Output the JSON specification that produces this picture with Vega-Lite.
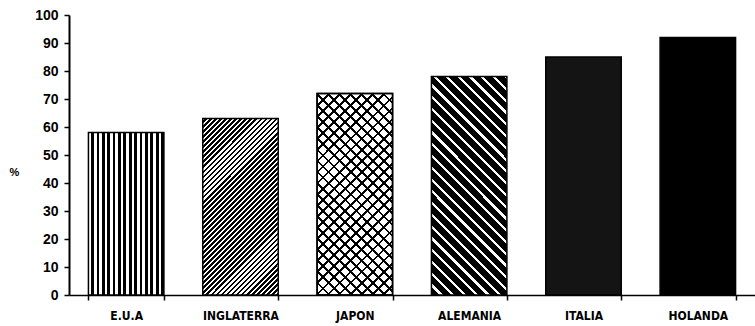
{
  "$schema": "https://vega.github.io/schema/vega-lite/v6.json",
  "autosize": {"type": "none"},
  "padding": {"left": 69, "top": 15, "right": 0, "bottom": 31},
  "width": 686,
  "height": 280,
  "background": "#ffffff",
  "data": {
    "values": [
      {"pais": "E.U.A", "pct": 58},
      {"pais": "INGLATERRA", "pct": 63},
      {"pais": "JAPON", "pct": 72},
      {"pais": "ALEMANIA", "pct": 78},
      {"pais": "ITALIA", "pct": 85},
      {"pais": "HOLANDA", "pct": 92}
    ]
  },
  "encoding": {
    "x": {
      "field": "pais",
      "type": "nominal",
      "sort": null,
      "scale": {
        "domain": ["E.U.A", "INGLATERRA", "JAPON", "ALEMANIA", "ITALIA", "HOLANDA"],
        "paddingInner": 0.34,
        "paddingOuter": 0.17
      },
      "axis": {
        "title": null,
        "labelAngle": 0,
        "tickBand": "extent",
        "tickSize": 5,
        "tickWidth": 1.5,
        "domainWidth": 1.5,
        "labelPadding": 10,
        "labelFont": "Liberation Sans Narrow, DejaVu Sans Condensed, Liberation Sans, sans-serif",
        "labelFontSize": 12,
        "labelFontWeight": "bold"
      }
    },
    "y": {
      "field": "pct",
      "type": "quantitative",
      "scale": {"domain": [0, 100], "nice": false},
      "axis": {
        "values": [0, 10, 20, 30, 40, 50, 60, 70, 80, 90, 100],
        "tickSize": 5,
        "tickWidth": 1.5,
        "domainWidth": 2,
        "labelPadding": 6,
        "labelFont": "Liberation Sans, sans-serif",
        "labelFontSize": 14,
        "labelFontWeight": "bold",
        "title": "%",
        "titleAngle": 0,
        "titleX": -55,
        "titleY": 162,
        "titleFont": "Liberation Sans, sans-serif",
        "titleFontSize": 11,
        "titleFontWeight": "bold"
      }
    }
  },
  "layer": [
    {
      "transform": [{"filter": "datum.pais === 'E.U.A'"}],
      "mark": {
        "type": "bar", "stroke": "#000", "strokeWidth": 1.5,
        "fill": {"gradient": "linear", "x1": 0, "y1": 0, "x2": 1, "y2": 0, "stops": [
          {"offset": 0, "color": "#fff"}, {"offset": 0.0357, "color": "#fff"}, {"offset": 0.0357, "color": "#000"}, {"offset": 0.0714, "color": "#000"},
          {"offset": 0.0714, "color": "#fff"}, {"offset": 0.1071, "color": "#fff"}, {"offset": 0.1071, "color": "#000"}, {"offset": 0.1429, "color": "#000"},
          {"offset": 0.1429, "color": "#fff"}, {"offset": 0.1786, "color": "#fff"}, {"offset": 0.1786, "color": "#000"}, {"offset": 0.2143, "color": "#000"},
          {"offset": 0.2143, "color": "#fff"}, {"offset": 0.25, "color": "#fff"}, {"offset": 0.25, "color": "#000"}, {"offset": 0.2857, "color": "#000"},
          {"offset": 0.2857, "color": "#fff"}, {"offset": 0.3214, "color": "#fff"}, {"offset": 0.3214, "color": "#000"}, {"offset": 0.3571, "color": "#000"},
          {"offset": 0.3571, "color": "#fff"}, {"offset": 0.3929, "color": "#fff"}, {"offset": 0.3929, "color": "#000"}, {"offset": 0.4286, "color": "#000"},
          {"offset": 0.4286, "color": "#fff"}, {"offset": 0.4643, "color": "#fff"}, {"offset": 0.4643, "color": "#000"}, {"offset": 0.5, "color": "#000"},
          {"offset": 0.5, "color": "#fff"}, {"offset": 0.5357, "color": "#fff"}, {"offset": 0.5357, "color": "#000"}, {"offset": 0.5714, "color": "#000"},
          {"offset": 0.5714, "color": "#fff"}, {"offset": 0.6071, "color": "#fff"}, {"offset": 0.6071, "color": "#000"}, {"offset": 0.6429, "color": "#000"},
          {"offset": 0.6429, "color": "#fff"}, {"offset": 0.6786, "color": "#fff"}, {"offset": 0.6786, "color": "#000"}, {"offset": 0.7143, "color": "#000"},
          {"offset": 0.7143, "color": "#fff"}, {"offset": 0.75, "color": "#fff"}, {"offset": 0.75, "color": "#000"}, {"offset": 0.7857, "color": "#000"},
          {"offset": 0.7857, "color": "#fff"}, {"offset": 0.8214, "color": "#fff"}, {"offset": 0.8214, "color": "#000"}, {"offset": 0.8571, "color": "#000"},
          {"offset": 0.8571, "color": "#fff"}, {"offset": 0.8929, "color": "#fff"}, {"offset": 0.8929, "color": "#000"}, {"offset": 0.9286, "color": "#000"},
          {"offset": 0.9286, "color": "#fff"}, {"offset": 0.9643, "color": "#fff"}, {"offset": 0.9643, "color": "#000"}, {"offset": 1, "color": "#000"}
        ]}
      }
    },
    {
      "transform": [{"filter": "datum.pais === 'INGLATERRA'"}],
      "mark": {
        "type": "bar", "stroke": "#000", "strokeWidth": 1.5,
        "fill": {"gradient": "linear", "x1": 0, "y1": 0, "x2": 0.5166, "y2": 1.2069, "stops": [
          {"offset": 0, "color": "#fff"}, {"offset": 0.009, "color": "#fff"}, {"offset": 0.009, "color": "#000"}, {"offset": 0.02, "color": "#000"},
          {"offset": 0.02, "color": "#fff"}, {"offset": 0.029, "color": "#fff"}, {"offset": 0.029, "color": "#000"}, {"offset": 0.04, "color": "#000"},
          {"offset": 0.04, "color": "#fff"}, {"offset": 0.049, "color": "#fff"}, {"offset": 0.049, "color": "#000"}, {"offset": 0.06, "color": "#000"},
          {"offset": 0.06, "color": "#fff"}, {"offset": 0.069, "color": "#fff"}, {"offset": 0.069, "color": "#000"}, {"offset": 0.08, "color": "#000"},
          {"offset": 0.08, "color": "#fff"}, {"offset": 0.089, "color": "#fff"}, {"offset": 0.089, "color": "#000"}, {"offset": 0.10, "color": "#000"},
          {"offset": 0.10, "color": "#fff"}, {"offset": 0.109, "color": "#fff"}, {"offset": 0.109, "color": "#000"}, {"offset": 0.12, "color": "#000"},
          {"offset": 0.12, "color": "#fff"}, {"offset": 0.129, "color": "#fff"}, {"offset": 0.129, "color": "#000"}, {"offset": 0.14, "color": "#000"},
          {"offset": 0.14, "color": "#fff"}, {"offset": 0.149, "color": "#fff"}, {"offset": 0.149, "color": "#000"}, {"offset": 0.16, "color": "#000"},
          {"offset": 0.16, "color": "#fff"}, {"offset": 0.169, "color": "#fff"}, {"offset": 0.169, "color": "#000"}, {"offset": 0.18, "color": "#000"},
          {"offset": 0.18, "color": "#fff"}, {"offset": 0.189, "color": "#fff"}, {"offset": 0.189, "color": "#000"}, {"offset": 0.20, "color": "#000"},
          {"offset": 0.20, "color": "#fff"}, {"offset": 0.209, "color": "#fff"}, {"offset": 0.209, "color": "#000"}, {"offset": 0.22, "color": "#000"},
          {"offset": 0.22, "color": "#fff"}, {"offset": 0.229, "color": "#fff"}, {"offset": 0.229, "color": "#000"}, {"offset": 0.24, "color": "#000"},
          {"offset": 0.24, "color": "#fff"}, {"offset": 0.249, "color": "#fff"}, {"offset": 0.249, "color": "#000"}, {"offset": 0.26, "color": "#000"},
          {"offset": 0.26, "color": "#fff"}, {"offset": 0.269, "color": "#fff"}, {"offset": 0.269, "color": "#000"}, {"offset": 0.28, "color": "#000"},
          {"offset": 0.28, "color": "#fff"}, {"offset": 0.289, "color": "#fff"}, {"offset": 0.289, "color": "#000"}, {"offset": 0.30, "color": "#000"},
          {"offset": 0.30, "color": "#fff"}, {"offset": 0.309, "color": "#fff"}, {"offset": 0.309, "color": "#000"}, {"offset": 0.32, "color": "#000"},
          {"offset": 0.32, "color": "#fff"}, {"offset": 0.329, "color": "#fff"}, {"offset": 0.329, "color": "#000"}, {"offset": 0.34, "color": "#000"},
          {"offset": 0.34, "color": "#fff"}, {"offset": 0.349, "color": "#fff"}, {"offset": 0.349, "color": "#000"}, {"offset": 0.36, "color": "#000"},
          {"offset": 0.36, "color": "#fff"}, {"offset": 0.369, "color": "#fff"}, {"offset": 0.369, "color": "#000"}, {"offset": 0.38, "color": "#000"},
          {"offset": 0.38, "color": "#fff"}, {"offset": 0.389, "color": "#fff"}, {"offset": 0.389, "color": "#000"}, {"offset": 0.40, "color": "#000"},
          {"offset": 0.40, "color": "#fff"}, {"offset": 0.409, "color": "#fff"}, {"offset": 0.409, "color": "#000"}, {"offset": 0.42, "color": "#000"},
          {"offset": 0.42, "color": "#fff"}, {"offset": 0.429, "color": "#fff"}, {"offset": 0.429, "color": "#000"}, {"offset": 0.44, "color": "#000"},
          {"offset": 0.44, "color": "#fff"}, {"offset": 0.449, "color": "#fff"}, {"offset": 0.449, "color": "#000"}, {"offset": 0.46, "color": "#000"},
          {"offset": 0.46, "color": "#fff"}, {"offset": 0.469, "color": "#fff"}, {"offset": 0.469, "color": "#000"}, {"offset": 0.48, "color": "#000"},
          {"offset": 0.48, "color": "#fff"}, {"offset": 0.489, "color": "#fff"}, {"offset": 0.489, "color": "#000"}, {"offset": 0.50, "color": "#000"},
          {"offset": 0.50, "color": "#fff"}, {"offset": 0.509, "color": "#fff"}, {"offset": 0.509, "color": "#000"}, {"offset": 0.52, "color": "#000"},
          {"offset": 0.52, "color": "#fff"}, {"offset": 0.529, "color": "#fff"}, {"offset": 0.529, "color": "#000"}, {"offset": 0.54, "color": "#000"},
          {"offset": 0.54, "color": "#fff"}, {"offset": 0.549, "color": "#fff"}, {"offset": 0.549, "color": "#000"}, {"offset": 0.56, "color": "#000"},
          {"offset": 0.56, "color": "#fff"}, {"offset": 0.569, "color": "#fff"}, {"offset": 0.569, "color": "#000"}, {"offset": 0.58, "color": "#000"},
          {"offset": 0.58, "color": "#fff"}, {"offset": 0.589, "color": "#fff"}, {"offset": 0.589, "color": "#000"}, {"offset": 0.60, "color": "#000"},
          {"offset": 0.60, "color": "#fff"}, {"offset": 0.609, "color": "#fff"}, {"offset": 0.609, "color": "#000"}, {"offset": 0.62, "color": "#000"},
          {"offset": 0.62, "color": "#fff"}, {"offset": 0.629, "color": "#fff"}, {"offset": 0.629, "color": "#000"}, {"offset": 0.64, "color": "#000"},
          {"offset": 0.64, "color": "#fff"}, {"offset": 0.649, "color": "#fff"}, {"offset": 0.649, "color": "#000"}, {"offset": 0.66, "color": "#000"},
          {"offset": 0.66, "color": "#fff"}, {"offset": 0.669, "color": "#fff"}, {"offset": 0.669, "color": "#000"}, {"offset": 0.68, "color": "#000"},
          {"offset": 0.68, "color": "#fff"}, {"offset": 0.689, "color": "#fff"}, {"offset": 0.689, "color": "#000"}, {"offset": 0.70, "color": "#000"},
          {"offset": 0.70, "color": "#fff"}, {"offset": 0.709, "color": "#fff"}, {"offset": 0.709, "color": "#000"}, {"offset": 0.72, "color": "#000"},
          {"offset": 0.72, "color": "#fff"}, {"offset": 0.729, "color": "#fff"}, {"offset": 0.729, "color": "#000"}, {"offset": 0.74, "color": "#000"},
          {"offset": 0.74, "color": "#fff"}, {"offset": 0.749, "color": "#fff"}, {"offset": 0.749, "color": "#000"}, {"offset": 0.76, "color": "#000"},
          {"offset": 0.76, "color": "#fff"}, {"offset": 0.769, "color": "#fff"}, {"offset": 0.769, "color": "#000"}, {"offset": 0.78, "color": "#000"},
          {"offset": 0.78, "color": "#fff"}, {"offset": 0.789, "color": "#fff"}, {"offset": 0.789, "color": "#000"}, {"offset": 0.80, "color": "#000"},
          {"offset": 0.80, "color": "#fff"}, {"offset": 0.809, "color": "#fff"}, {"offset": 0.809, "color": "#000"}, {"offset": 0.82, "color": "#000"},
          {"offset": 0.82, "color": "#fff"}, {"offset": 0.829, "color": "#fff"}, {"offset": 0.829, "color": "#000"}, {"offset": 0.84, "color": "#000"},
          {"offset": 0.84, "color": "#fff"}, {"offset": 0.849, "color": "#fff"}, {"offset": 0.849, "color": "#000"}, {"offset": 0.86, "color": "#000"},
          {"offset": 0.86, "color": "#fff"}, {"offset": 0.869, "color": "#fff"}, {"offset": 0.869, "color": "#000"}, {"offset": 0.88, "color": "#000"},
          {"offset": 0.88, "color": "#fff"}, {"offset": 0.889, "color": "#fff"}, {"offset": 0.889, "color": "#000"}, {"offset": 0.90, "color": "#000"},
          {"offset": 0.90, "color": "#fff"}, {"offset": 0.909, "color": "#fff"}, {"offset": 0.909, "color": "#000"}, {"offset": 0.92, "color": "#000"},
          {"offset": 0.92, "color": "#fff"}, {"offset": 0.929, "color": "#fff"}, {"offset": 0.929, "color": "#000"}, {"offset": 0.94, "color": "#000"},
          {"offset": 0.94, "color": "#fff"}, {"offset": 0.949, "color": "#fff"}, {"offset": 0.949, "color": "#000"}, {"offset": 0.96, "color": "#000"},
          {"offset": 0.96, "color": "#fff"}, {"offset": 0.969, "color": "#fff"}, {"offset": 0.969, "color": "#000"}, {"offset": 0.98, "color": "#000"},
          {"offset": 0.98, "color": "#fff"}, {"offset": 0.989, "color": "#fff"}, {"offset": 0.989, "color": "#000"}, {"offset": 1, "color": "#000"}
        ]}
      }
    },
    {
      "transform": [{"filter": "datum.pais === 'JAPON'"}],
      "mark": {
        "type": "bar", "stroke": "#000", "strokeWidth": 1.5,
        "fill": {"gradient": "linear", "x1": 0, "y1": 0, "x2": 0.4514, "y2": 1.2054, "stops": [
          {"offset": 0, "color": "#000"}, {"offset": 0.01, "color": "#000"}, {"offset": 0.01, "color": "#fff"}, {"offset": 0.04, "color": "#fff"},
          {"offset": 0.04, "color": "#000"}, {"offset": 0.05, "color": "#000"}, {"offset": 0.05, "color": "#fff"}, {"offset": 0.08, "color": "#fff"},
          {"offset": 0.08, "color": "#000"}, {"offset": 0.09, "color": "#000"}, {"offset": 0.09, "color": "#fff"}, {"offset": 0.12, "color": "#fff"},
          {"offset": 0.12, "color": "#000"}, {"offset": 0.13, "color": "#000"}, {"offset": 0.13, "color": "#fff"}, {"offset": 0.16, "color": "#fff"},
          {"offset": 0.16, "color": "#000"}, {"offset": 0.17, "color": "#000"}, {"offset": 0.17, "color": "#fff"}, {"offset": 0.20, "color": "#fff"},
          {"offset": 0.20, "color": "#000"}, {"offset": 0.21, "color": "#000"}, {"offset": 0.21, "color": "#fff"}, {"offset": 0.24, "color": "#fff"},
          {"offset": 0.24, "color": "#000"}, {"offset": 0.25, "color": "#000"}, {"offset": 0.25, "color": "#fff"}, {"offset": 0.28, "color": "#fff"},
          {"offset": 0.28, "color": "#000"}, {"offset": 0.29, "color": "#000"}, {"offset": 0.29, "color": "#fff"}, {"offset": 0.32, "color": "#fff"},
          {"offset": 0.32, "color": "#000"}, {"offset": 0.33, "color": "#000"}, {"offset": 0.33, "color": "#fff"}, {"offset": 0.36, "color": "#fff"},
          {"offset": 0.36, "color": "#000"}, {"offset": 0.37, "color": "#000"}, {"offset": 0.37, "color": "#fff"}, {"offset": 0.40, "color": "#fff"},
          {"offset": 0.40, "color": "#000"}, {"offset": 0.41, "color": "#000"}, {"offset": 0.41, "color": "#fff"}, {"offset": 0.44, "color": "#fff"},
          {"offset": 0.44, "color": "#000"}, {"offset": 0.45, "color": "#000"}, {"offset": 0.45, "color": "#fff"}, {"offset": 0.48, "color": "#fff"},
          {"offset": 0.48, "color": "#000"}, {"offset": 0.49, "color": "#000"}, {"offset": 0.49, "color": "#fff"}, {"offset": 0.52, "color": "#fff"},
          {"offset": 0.52, "color": "#000"}, {"offset": 0.53, "color": "#000"}, {"offset": 0.53, "color": "#fff"}, {"offset": 0.56, "color": "#fff"},
          {"offset": 0.56, "color": "#000"}, {"offset": 0.57, "color": "#000"}, {"offset": 0.57, "color": "#fff"}, {"offset": 0.60, "color": "#fff"},
          {"offset": 0.60, "color": "#000"}, {"offset": 0.61, "color": "#000"}, {"offset": 0.61, "color": "#fff"}, {"offset": 0.64, "color": "#fff"},
          {"offset": 0.64, "color": "#000"}, {"offset": 0.65, "color": "#000"}, {"offset": 0.65, "color": "#fff"}, {"offset": 0.68, "color": "#fff"},
          {"offset": 0.68, "color": "#000"}, {"offset": 0.69, "color": "#000"}, {"offset": 0.69, "color": "#fff"}, {"offset": 0.72, "color": "#fff"},
          {"offset": 0.72, "color": "#000"}, {"offset": 0.73, "color": "#000"}, {"offset": 0.73, "color": "#fff"}, {"offset": 0.76, "color": "#fff"},
          {"offset": 0.76, "color": "#000"}, {"offset": 0.77, "color": "#000"}, {"offset": 0.77, "color": "#fff"}, {"offset": 0.80, "color": "#fff"},
          {"offset": 0.80, "color": "#000"}, {"offset": 0.81, "color": "#000"}, {"offset": 0.81, "color": "#fff"}, {"offset": 0.84, "color": "#fff"},
          {"offset": 0.84, "color": "#000"}, {"offset": 0.85, "color": "#000"}, {"offset": 0.85, "color": "#fff"}, {"offset": 0.88, "color": "#fff"},
          {"offset": 0.88, "color": "#000"}, {"offset": 0.89, "color": "#000"}, {"offset": 0.89, "color": "#fff"}, {"offset": 0.92, "color": "#fff"},
          {"offset": 0.92, "color": "#000"}, {"offset": 0.93, "color": "#000"}, {"offset": 0.93, "color": "#fff"}, {"offset": 0.96, "color": "#fff"},
          {"offset": 0.96, "color": "#000"}, {"offset": 0.97, "color": "#000"}, {"offset": 0.97, "color": "#fff"}, {"offset": 1, "color": "#fff"}
        ]}
      }
    },
    {
      "transform": [{"filter": "datum.pais === 'JAPON'"}],
      "mark": {
        "type": "bar", "stroke": "#000", "strokeWidth": 1.5,
        "fill": {"gradient": "linear", "x1": 0, "y1": 1, "x2": 0.4514, "y2": -0.2054, "stops": [
          {"offset": 0, "color": "#000"}, {"offset": 0.01, "color": "#000"}, {"offset": 0.01, "color": "rgba(255,255,255,0)"}, {"offset": 0.04, "color": "rgba(255,255,255,0)"},
          {"offset": 0.04, "color": "#000"}, {"offset": 0.05, "color": "#000"}, {"offset": 0.05, "color": "rgba(255,255,255,0)"}, {"offset": 0.08, "color": "rgba(255,255,255,0)"},
          {"offset": 0.08, "color": "#000"}, {"offset": 0.09, "color": "#000"}, {"offset": 0.09, "color": "rgba(255,255,255,0)"}, {"offset": 0.12, "color": "rgba(255,255,255,0)"},
          {"offset": 0.12, "color": "#000"}, {"offset": 0.13, "color": "#000"}, {"offset": 0.13, "color": "rgba(255,255,255,0)"}, {"offset": 0.16, "color": "rgba(255,255,255,0)"},
          {"offset": 0.16, "color": "#000"}, {"offset": 0.17, "color": "#000"}, {"offset": 0.17, "color": "rgba(255,255,255,0)"}, {"offset": 0.20, "color": "rgba(255,255,255,0)"},
          {"offset": 0.20, "color": "#000"}, {"offset": 0.21, "color": "#000"}, {"offset": 0.21, "color": "rgba(255,255,255,0)"}, {"offset": 0.24, "color": "rgba(255,255,255,0)"},
          {"offset": 0.24, "color": "#000"}, {"offset": 0.25, "color": "#000"}, {"offset": 0.25, "color": "rgba(255,255,255,0)"}, {"offset": 0.28, "color": "rgba(255,255,255,0)"},
          {"offset": 0.28, "color": "#000"}, {"offset": 0.29, "color": "#000"}, {"offset": 0.29, "color": "rgba(255,255,255,0)"}, {"offset": 0.32, "color": "rgba(255,255,255,0)"},
          {"offset": 0.32, "color": "#000"}, {"offset": 0.33, "color": "#000"}, {"offset": 0.33, "color": "rgba(255,255,255,0)"}, {"offset": 0.36, "color": "rgba(255,255,255,0)"},
          {"offset": 0.36, "color": "#000"}, {"offset": 0.37, "color": "#000"}, {"offset": 0.37, "color": "rgba(255,255,255,0)"}, {"offset": 0.40, "color": "rgba(255,255,255,0)"},
          {"offset": 0.40, "color": "#000"}, {"offset": 0.41, "color": "#000"}, {"offset": 0.41, "color": "rgba(255,255,255,0)"}, {"offset": 0.44, "color": "rgba(255,255,255,0)"},
          {"offset": 0.44, "color": "#000"}, {"offset": 0.45, "color": "#000"}, {"offset": 0.45, "color": "rgba(255,255,255,0)"}, {"offset": 0.48, "color": "rgba(255,255,255,0)"},
          {"offset": 0.48, "color": "#000"}, {"offset": 0.49, "color": "#000"}, {"offset": 0.49, "color": "rgba(255,255,255,0)"}, {"offset": 0.52, "color": "rgba(255,255,255,0)"},
          {"offset": 0.52, "color": "#000"}, {"offset": 0.53, "color": "#000"}, {"offset": 0.53, "color": "rgba(255,255,255,0)"}, {"offset": 0.56, "color": "rgba(255,255,255,0)"},
          {"offset": 0.56, "color": "#000"}, {"offset": 0.57, "color": "#000"}, {"offset": 0.57, "color": "rgba(255,255,255,0)"}, {"offset": 0.60, "color": "rgba(255,255,255,0)"},
          {"offset": 0.60, "color": "#000"}, {"offset": 0.61, "color": "#000"}, {"offset": 0.61, "color": "rgba(255,255,255,0)"}, {"offset": 0.64, "color": "rgba(255,255,255,0)"},
          {"offset": 0.64, "color": "#000"}, {"offset": 0.65, "color": "#000"}, {"offset": 0.65, "color": "rgba(255,255,255,0)"}, {"offset": 0.68, "color": "rgba(255,255,255,0)"},
          {"offset": 0.68, "color": "#000"}, {"offset": 0.69, "color": "#000"}, {"offset": 0.69, "color": "rgba(255,255,255,0)"}, {"offset": 0.72, "color": "rgba(255,255,255,0)"},
          {"offset": 0.72, "color": "#000"}, {"offset": 0.73, "color": "#000"}, {"offset": 0.73, "color": "rgba(255,255,255,0)"}, {"offset": 0.76, "color": "rgba(255,255,255,0)"},
          {"offset": 0.76, "color": "#000"}, {"offset": 0.77, "color": "#000"}, {"offset": 0.77, "color": "rgba(255,255,255,0)"}, {"offset": 0.80, "color": "rgba(255,255,255,0)"},
          {"offset": 0.80, "color": "#000"}, {"offset": 0.81, "color": "#000"}, {"offset": 0.81, "color": "rgba(255,255,255,0)"}, {"offset": 0.84, "color": "rgba(255,255,255,0)"},
          {"offset": 0.84, "color": "#000"}, {"offset": 0.85, "color": "#000"}, {"offset": 0.85, "color": "rgba(255,255,255,0)"}, {"offset": 0.88, "color": "rgba(255,255,255,0)"},
          {"offset": 0.88, "color": "#000"}, {"offset": 0.89, "color": "#000"}, {"offset": 0.89, "color": "rgba(255,255,255,0)"}, {"offset": 0.92, "color": "rgba(255,255,255,0)"},
          {"offset": 0.92, "color": "#000"}, {"offset": 0.93, "color": "#000"}, {"offset": 0.93, "color": "rgba(255,255,255,0)"}, {"offset": 0.96, "color": "rgba(255,255,255,0)"},
          {"offset": 0.96, "color": "#000"}, {"offset": 0.97, "color": "#000"}, {"offset": 0.97, "color": "rgba(255,255,255,0)"}, {"offset": 1, "color": "rgba(255,255,255,0)"}
        ]}
      }
    },
    {
      "transform": [{"filter": "datum.pais === 'ALEMANIA'"}],
      "mark": {
        "type": "bar", "stroke": "#000", "strokeWidth": 1.5,
        "fill": {"gradient": "linear", "x1": 0, "y1": 1, "x2": 0.4155, "y2": -0.202, "stops": [
          {"offset": 0, "color": "#000"}, {"offset": 0.029, "color": "#000"}, {"offset": 0.029, "color": "#fff"}, {"offset": 0.04, "color": "#fff"},
          {"offset": 0.04, "color": "#000"}, {"offset": 0.069, "color": "#000"}, {"offset": 0.069, "color": "#fff"}, {"offset": 0.08, "color": "#fff"},
          {"offset": 0.08, "color": "#000"}, {"offset": 0.109, "color": "#000"}, {"offset": 0.109, "color": "#fff"}, {"offset": 0.12, "color": "#fff"},
          {"offset": 0.12, "color": "#000"}, {"offset": 0.149, "color": "#000"}, {"offset": 0.149, "color": "#fff"}, {"offset": 0.16, "color": "#fff"},
          {"offset": 0.16, "color": "#000"}, {"offset": 0.189, "color": "#000"}, {"offset": 0.189, "color": "#fff"}, {"offset": 0.20, "color": "#fff"},
          {"offset": 0.20, "color": "#000"}, {"offset": 0.229, "color": "#000"}, {"offset": 0.229, "color": "#fff"}, {"offset": 0.24, "color": "#fff"},
          {"offset": 0.24, "color": "#000"}, {"offset": 0.269, "color": "#000"}, {"offset": 0.269, "color": "#fff"}, {"offset": 0.28, "color": "#fff"},
          {"offset": 0.28, "color": "#000"}, {"offset": 0.309, "color": "#000"}, {"offset": 0.309, "color": "#fff"}, {"offset": 0.32, "color": "#fff"},
          {"offset": 0.32, "color": "#000"}, {"offset": 0.349, "color": "#000"}, {"offset": 0.349, "color": "#fff"}, {"offset": 0.36, "color": "#fff"},
          {"offset": 0.36, "color": "#000"}, {"offset": 0.389, "color": "#000"}, {"offset": 0.389, "color": "#fff"}, {"offset": 0.40, "color": "#fff"},
          {"offset": 0.40, "color": "#000"}, {"offset": 0.429, "color": "#000"}, {"offset": 0.429, "color": "#fff"}, {"offset": 0.44, "color": "#fff"},
          {"offset": 0.44, "color": "#000"}, {"offset": 0.469, "color": "#000"}, {"offset": 0.469, "color": "#fff"}, {"offset": 0.48, "color": "#fff"},
          {"offset": 0.48, "color": "#000"}, {"offset": 0.509, "color": "#000"}, {"offset": 0.509, "color": "#fff"}, {"offset": 0.52, "color": "#fff"},
          {"offset": 0.52, "color": "#000"}, {"offset": 0.549, "color": "#000"}, {"offset": 0.549, "color": "#fff"}, {"offset": 0.56, "color": "#fff"},
          {"offset": 0.56, "color": "#000"}, {"offset": 0.589, "color": "#000"}, {"offset": 0.589, "color": "#fff"}, {"offset": 0.60, "color": "#fff"},
          {"offset": 0.60, "color": "#000"}, {"offset": 0.629, "color": "#000"}, {"offset": 0.629, "color": "#fff"}, {"offset": 0.64, "color": "#fff"},
          {"offset": 0.64, "color": "#000"}, {"offset": 0.669, "color": "#000"}, {"offset": 0.669, "color": "#fff"}, {"offset": 0.68, "color": "#fff"},
          {"offset": 0.68, "color": "#000"}, {"offset": 0.709, "color": "#000"}, {"offset": 0.709, "color": "#fff"}, {"offset": 0.72, "color": "#fff"},
          {"offset": 0.72, "color": "#000"}, {"offset": 0.749, "color": "#000"}, {"offset": 0.749, "color": "#fff"}, {"offset": 0.76, "color": "#fff"},
          {"offset": 0.76, "color": "#000"}, {"offset": 0.789, "color": "#000"}, {"offset": 0.789, "color": "#fff"}, {"offset": 0.80, "color": "#fff"},
          {"offset": 0.80, "color": "#000"}, {"offset": 0.829, "color": "#000"}, {"offset": 0.829, "color": "#fff"}, {"offset": 0.84, "color": "#fff"},
          {"offset": 0.84, "color": "#000"}, {"offset": 0.869, "color": "#000"}, {"offset": 0.869, "color": "#fff"}, {"offset": 0.88, "color": "#fff"},
          {"offset": 0.88, "color": "#000"}, {"offset": 0.909, "color": "#000"}, {"offset": 0.909, "color": "#fff"}, {"offset": 0.92, "color": "#fff"},
          {"offset": 0.92, "color": "#000"}, {"offset": 0.949, "color": "#000"}, {"offset": 0.949, "color": "#fff"}, {"offset": 0.96, "color": "#fff"},
          {"offset": 0.96, "color": "#000"}, {"offset": 0.989, "color": "#000"}, {"offset": 0.989, "color": "#fff"}, {"offset": 1, "color": "#fff"}
        ]}
      }
    },
    {
      "transform": [{"filter": "datum.pais === 'ITALIA'"}],
      "mark": {"type": "bar", "stroke": "#000", "strokeWidth": 1.5, "fill": "#141414"}
    },
    {
      "transform": [{"filter": "datum.pais === 'HOLANDA'"}],
      "mark": {"type": "bar", "stroke": "#000", "strokeWidth": 1.5, "fill": "#000"}
    }
  ],
  "config": {
    "view": {"stroke": null},
    "axis": {
      "grid": false,
      "domainColor": "#000",
      "tickColor": "#000",
      "labelColor": "#000",
      "titleColor": "#000"
    }
  }
}
